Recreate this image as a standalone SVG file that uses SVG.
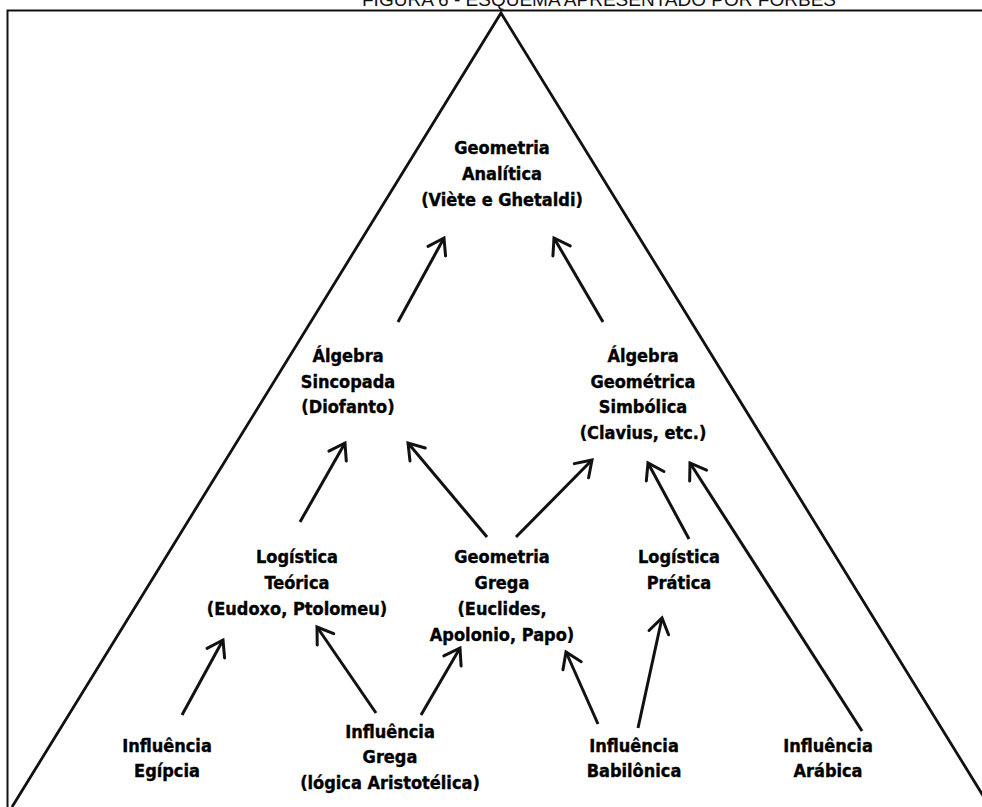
<svg xmlns="http://www.w3.org/2000/svg" width="982" height="807" viewBox="0 0 982 807">
<defs>
<style>
.t{font-family:"DejaVu Sans Condensed","Liberation Sans",sans-serif;font-weight:bold;font-size:18px;fill:#000;stroke:#000;stroke-width:0.35;text-anchor:middle}
.title{font-family:"Liberation Sans",Arial,sans-serif;font-size:18px;fill:#111;text-anchor:middle}
.frame{fill:none;stroke:#111;stroke-width:2}
.tri{fill:none;stroke:#111;stroke-width:2.8}
.edge{fill:none;stroke:#111;stroke-width:3;marker-end:url(#ah)}
</style>
<marker id="ah" markerUnits="userSpaceOnUse" markerWidth="30" markerHeight="30" refX="0" refY="0" viewBox="-20 -15 30 30" orient="auto">
<path d="M-15,-10 L0,0 L-15,10" fill="none" stroke="#111" stroke-width="3" stroke-linecap="round" stroke-linejoin="miter"/>
</marker>
</defs>
<rect width="982" height="807" fill="#fff"/>
<text class="title" x="599" y="6" textLength="474" lengthAdjust="spacingAndGlyphs">FIGURA 6 - ESQUEMA APRESENTADO POR FORBES</text>
<path class="frame" d="M982,10.5 H7.5 V807"/>
<path class="tri" d="M12,807 L501,13 L990,807"/>
<g id="connectors">
<line class="edge" x1="398" y1="322" x2="444" y2="238"/>
<line class="edge" x1="603" y1="322" x2="554" y2="238"/>
<line class="edge" x1="300" y1="522" x2="345" y2="443"/>
<line class="edge" x1="487" y1="537" x2="408" y2="443"/>
<line class="edge" x1="516" y1="537" x2="592" y2="460"/>
<line class="edge" x1="689" y1="539" x2="648" y2="463"/>
<line class="edge" x1="862" y1="731" x2="690" y2="463"/>
<line class="edge" x1="182" y1="715" x2="223" y2="640"/>
<line class="edge" x1="376" y1="713" x2="317" y2="627"/>
<line class="edge" x1="421" y1="715" x2="460" y2="648"/>
<line class="edge" x1="598" y1="724" x2="566" y2="652"/>
<line class="edge" x1="638" y1="728" x2="662" y2="618"/>
</g>
<g id="geometria-analitica"><text class="t" x="502" y="154">Geometria</text><text class="t" x="502" y="180">Analítica</text><text class="t" x="502" y="206">(Viète e Ghetaldi)</text></g>
<g id="algebra-sincopada"><text class="t" x="348" y="362">Álgebra</text><text class="t" x="348" y="388">Sincopada</text><text class="t" x="348" y="413">(Diofanto)</text></g>
<g id="algebra-geometrica"><text class="t" x="643" y="362">Álgebra</text><text class="t" x="643" y="388">Geométrica</text><text class="t" x="643" y="413">Simbólica</text><text class="t" x="643" y="439">(Clavius, etc.)</text></g>
<g id="logistica-teorica"><text class="t" x="297" y="563">Logística</text><text class="t" x="297" y="589">Teórica</text><text class="t" x="297" y="615">(Eudoxo, Ptolomeu)</text></g>
<g id="geometria-grega"><text class="t" x="502" y="563">Geometria</text><text class="t" x="502" y="589">Grega</text><text class="t" x="502" y="615">(Euclides,</text><text class="t" x="502" y="641">Apolonio, Papo)</text></g>
<g id="logistica-pratica"><text class="t" x="679" y="563">Logística</text><text class="t" x="679" y="589">Prática</text></g>
<g id="influencia-egipcia"><text class="t" x="167" y="752">Influência</text><text class="t" x="167" y="777">Egípcia</text></g>
<g id="influencia-grega"><text class="t" x="390" y="738">Influência</text><text class="t" x="390" y="763">Grega</text><text class="t" x="390" y="789">(lógica Aristotélica)</text></g>
<g id="influencia-babilonica"><text class="t" x="634" y="752">Influência</text><text class="t" x="634" y="777">Babilônica</text></g>
<g id="influencia-arabica"><text class="t" x="828" y="752">Influência</text><text class="t" x="828" y="777">Arábica</text></g>
</svg>
